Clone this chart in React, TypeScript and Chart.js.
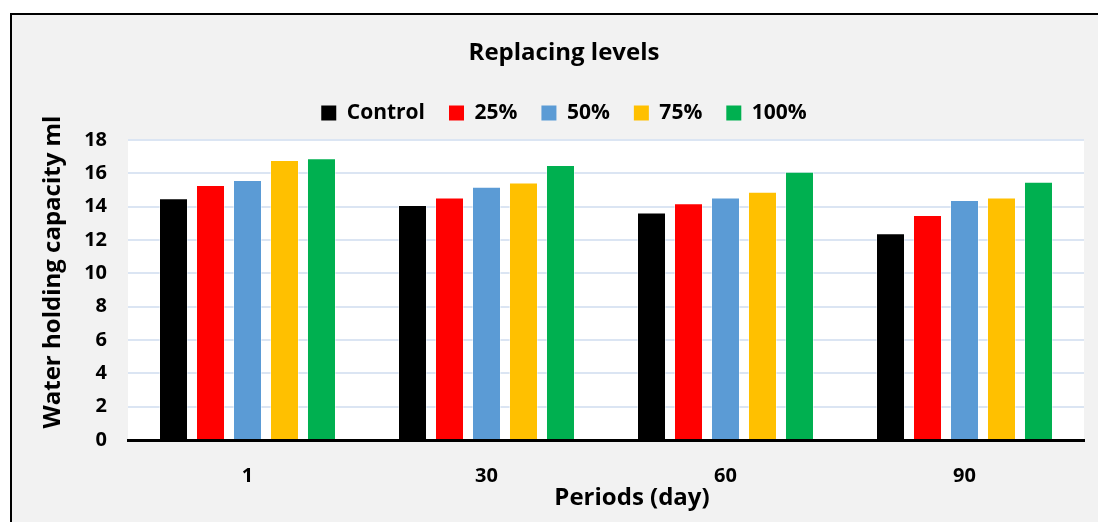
import { useEffect, useRef } from "react";
import { Chart, registerables } from "chart.js";

Chart.register(...registerables);

// Water holding capacity (ml) by period and replacing level
const periods = ["1", "30", "60", "90"];
const seriesNames = ["Control", "25%", "50%", "75%", "100%"];
const controlValues = [14.5, 14.1, 13.65, 12.4];
const level25Values = [15.3, 14.55, 14.2, 13.5];
const level50Values = [15.6, 15.2, 14.55, 14.4];
const level75Values = [16.8, 15.45, 14.9, 14.55];
const level100Values = [16.9, 16.5, 16.1, 15.5];
const seriesColors = ["#000000", "#ff0000", "#5b9bd5", "#ffc000", "#00b050"];
const yMin = 0;
const yMax = 18;
const yStep = 2;

const chartTitle = "Replacing levels";
const xTitle = "Periods (day)";
const yTitle = "Water holding capacity ml";

const FONT = "'Open Sans', 'Noto Sans', sans-serif";

const framePlugin = {
  id: "frame",
  beforeDraw(chart: any) {
    const { ctx, width, height, chartArea } = chart;
    ctx.save();
    ctx.fillStyle = "#ffffff";
    ctx.fillRect(0, 0, width, height);
    ctx.fillStyle = "#f2f2f2";
    ctx.fillRect(11, 14, width, height);
    ctx.strokeStyle = "#000000";
    ctx.lineWidth = 2;
    ctx.beginPath();
    ctx.moveTo(11, height + 5);
    ctx.lineTo(11, 14);
    ctx.lineTo(width + 5, 14);
    ctx.stroke();
    ctx.fillStyle = "#ffffff";
    ctx.fillRect(
      chartArea.left,
      chartArea.top,
      chartArea.right - chartArea.left,
      chartArea.bottom - chartArea.top
    );
    ctx.restore();
  },
};

// Extra room between the legend row and the plot area
const legendGapPlugin = {
  id: "legendGap",
  beforeLayout(chart: any) {
    const legend = chart.legend;
    if (legend && !legend._gapPatched) {
      const fit = legend.fit;
      legend.fit = function (this: any) {
        fit.call(this);
        this.height += 6.5;
      };
      legend._gapPatched = true;
    }
  },
};

const axisTitlePlugin = {
  id: "axisTitles",
  afterDraw(chart: any) {
    const { ctx } = chart;
    ctx.save();
    ctx.fillStyle = "#000000";
    ctx.textAlign = "center";
    ctx.textBaseline = "middle";
    ctx.font = `bold 24px ${FONT}`;
    ctx.fillText(xTitle, 632, 498);
    ctx.translate(53, 272);
    ctx.rotate(-Math.PI / 2);
    ctx.fillText(yTitle, 0, 0);
    ctx.restore();
  },
};

export default function App() {
  const canvasRef = useRef<HTMLCanvasElement | null>(null);

  useEffect(() => {
    if (!canvasRef.current) return;
    const values = [controlValues, level25Values, level50Values, level75Values, level100Values];
    const chart = new Chart(canvasRef.current, {
      type: "bar",
      data: {
        labels: periods,
        datasets: seriesNames.map((name, i) => ({
          label: name,
          data: values[i],
          backgroundColor: seriesColors[i],
          borderColor: "rgba(255,255,255,0.45)",
          borderWidth: 1,
          categoryPercentage: 0.774,
          barPercentage: 0.784,
        })),
      },
      options: {
        responsive: false,
        animation: false,
        layout: { padding: { left: 44, right: 14, top: 0, bottom: 0 } },
        plugins: {
          title: {
            display: true,
            text: chartTitle,
            color: "#000000",
            font: { family: FONT, size: 24, weight: "bold", lineHeight: 1.2 },
            padding: { top: 38.6, bottom: 11.1 },
          },
          legend: {
            display: true,
            position: "top",
            labels: {
              color: "#000000",
              font: { family: FONT, size: 21, weight: "bold" },
              boxWidth: 15,
              boxHeight: 15,
              padding: 24,
              generateLabels: (c: any) =>
                c.data.datasets.map((ds: any, i: number) => ({
                  text: ds.label,
                  fillStyle: seriesColors[i],
                  strokeStyle: seriesColors[i],
                  lineWidth: 0,
                  datasetIndex: i,
                  hidden: false,
                  fontColor: "#000000",
                })),
            },
          },
          tooltip: { enabled: false },
        },
        scales: {
          x: {
            grid: { display: false, drawTicks: false },
            border: { display: true, color: "#000000", width: 3, z: 1 },
            ticks: {
              color: "#000000",
              font: { family: FONT, size: 20, weight: "bold" },
              padding: 24,
            },
            afterFit: (scale: any) => {
              scale.height = 82;
            },
          },
          y: {
            min: yMin,
            max: yMax,
            grid: { color: "#dbe5f3", lineWidth: 2, drawTicks: false },
            border: { display: false },
            ticks: {
              stepSize: yStep,
              color: "#000000",
              font: { family: FONT, size: 20, weight: "bold" },
              padding: 21,
            },
            afterFit: (scale: any) => {
              scale.width = 84;
            },
          },
        },
      },
      plugins: [framePlugin, legendGapPlugin, axisTitlePlugin],
    } as any);
    return () => chart.destroy();
  }, []);

  return (
    <div style={{ position: "fixed", left: 0, top: 0, width: 1098, height: 522 }}>
      <canvas ref={canvasRef} width={1098} height={522} style={{ width: 1098, height: 522 }} />
    </div>
  );
}
